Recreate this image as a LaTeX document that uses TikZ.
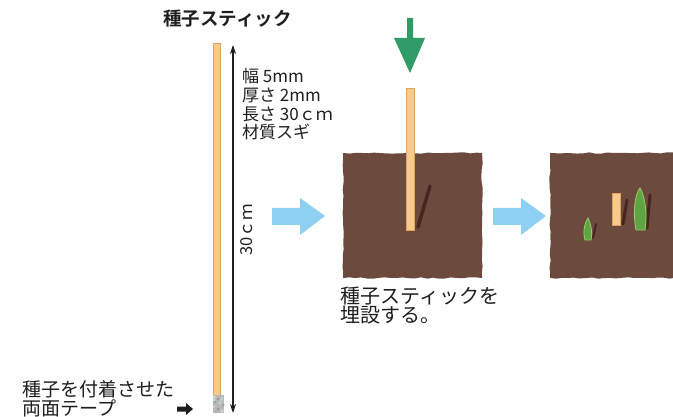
\documentclass[tikz,border=0pt]{standalone}
\usepackage{fontspec}
\newfontfamily\jp{Noto Sans CJK JP}[BoldFont={Noto Sans CJK JP Bold}]
\usetikzlibrary{arrows.meta,decorations.pathmorphing}

\definecolor{ink}{HTML}{1E1E1E}
\definecolor{soil}{HTML}{6C4A3D}
\definecolor{soildark}{HTML}{45271F}
\definecolor{wood}{HTML}{F7CB8C}
\definecolor{woodedge}{HTML}{E4A25A}
\definecolor{skyarrow}{HTML}{8ED0F2}
\definecolor{pusharrow}{HTML}{2F9C68}
\definecolor{leaf}{HTML}{5FA544}
\definecolor{leaflight}{HTML}{9CCB6A}

\tikzset{
  label/.style={font=\jp\fontsize{17}{18}\selectfont, text=ink, inner sep=0pt},
  biglabel/.style={font=\jp\fontsize{19}{20}\selectfont, text=ink, inner sep=0pt},
  stickbar/.style={fill=wood, draw=woodedge, line width=0.8pt},
  soilpatch/.style={fill=soil, decorate, decoration={random steps, segment length=6pt, amplitude=0.7pt}},
  flowarrow/.style={fill=skyarrow},
  sprout/.style={fill=leaf, draw=leaflight, line width=0.8pt},
}

\begin{document}
\begin{tikzpicture}[x=1pt, y=-1pt]
\pgfmathsetseed{7}
\useasboundingbox (0,0) rectangle (673,417);

% --- seed stick with its dimensions ---
\node[label, font=\jp\bfseries\fontsize{18.5}{19}\selectfont, anchor=west] (title) at (163,19) {種子スティック};

\draw[stickbar] (213.5,43) rectangle (220,396);
% double-sided tape carrying the seeds
\fill[gray!55] (212.5,395) rectangle (224,413);
\foreach \sx/\sy/\sc in {214/397/gray!30, 218/399/gray!80, 222/398/gray!40, 215/402/gray!75,
  220/403/gray!35, 223/405/gray!70, 214/407/gray!40, 218/409/gray!85, 222/411/gray!30,
  216/412/gray!60, 221/400/teal!30, 214/400/teal!25}
  \fill[\sc] (\sx,\sy) circle (1.5);
\coordinate (tape) at (206,409);

\coordinate (dimtop) at (233,45);
\coordinate (dimbot) at (233,413);
\draw[ink, line width=1.1pt, {Stealth[length=9pt,width=6pt]}-{Stealth[length=9pt,width=6pt]}] (dimtop) -- (dimbot);

\node[label, anchor=west] (spec1) at (242,76) {幅 5mm};
\node[label, anchor=west] (spec2) at (242,95) {厚さ 2mm};
\node[label, anchor=west] (spec3) at (242,114) {長さ 30ｃｍ};
\node[label, anchor=west] (spec4) at (242,132) {材質スギ};
\node[label, font=\jp\fontsize{16.5}{18}\selectfont, rotate=90] (len) at (247,230) {30ｃｍ};

\node[biglabel, anchor=west] (tapeA) at (22,389) {種子を付着させた};
\node[biglabel, anchor=west] (tapeB) at (22,408) {両面テープ};
\coordinate (pointer) at (177,409);
\fill[ink] (pointer) ++(0,-2.5) -- ++(9,0) -- ++(0,-3.5) -- ++(7,6) -- ++(-7,6) -- ++(0,-3.5) -- ++(-9,0) -- cycle;

% --- step 1: push the stick into the soil ---
\fill[soilpatch] (343,153) rectangle (482,278);
\draw[soildark, line width=3.5pt, line cap=round] (430,186) -- (418,227);
\draw[stickbar] (406.5,88) rectangle (414,230);
\coordinate (push) at (410,18);
\fill[pusharrow] (push) ++(-3,0) -- ++(6,0) -- ++(0,20) -- ++(12,0) -- (410,73) -- (394,38) -- ++(13,0) -- cycle;

\node[biglabel, font=\jp\fontsize{20}{20}\selectfont, anchor=west] (capA) at (340,296) {種子スティックを};
\node[biglabel, font=\jp\fontsize{20}{20}\selectfont, anchor=west] (capB) at (340,315) {埋設する。};

\coordinate (flow1) at (272,216);
\fill[flowarrow] (flow1) ++(0,-8) -- ++(28,0) -- ++(0,-10) -- (325,216) -- (300,235) -- ++(0,-10) -- ++(-28,0) -- cycle;

% --- step 2: seedlings emerge ---
\coordinate (flow2) at (493,216);
\fill[flowarrow] (flow2) ++(0,-8) -- ++(28,0) -- ++(0,-10) -- (546,216) -- (521,235) -- ++(0,-10) -- ++(-28,0) -- cycle;

\fill[soilpatch] (550,153) rectangle (685,278);
\draw[soildark, line width=3pt, line cap=round] (627,200) -- (623,224);
\draw[soildark, line width=3pt, line cap=round] (650,195) -- (647,228);
\draw[soildark, line width=2pt, line cap=round] (596,224) -- (593,238);
\draw[stickbar] (612.5,193) rectangle (620,225);
\draw[sprout] (636,230) .. controls (632,210) and (636,192) .. (640,188)
  .. controls (644,194) and (648,212) .. (645,230) -- cycle;
\draw[sprout] (585,240) .. controls (582,230) and (586,221) .. (588,218)
  .. controls (590,222) and (593,231) .. (591,240) -- cycle;
\end{tikzpicture}
\end{document}
